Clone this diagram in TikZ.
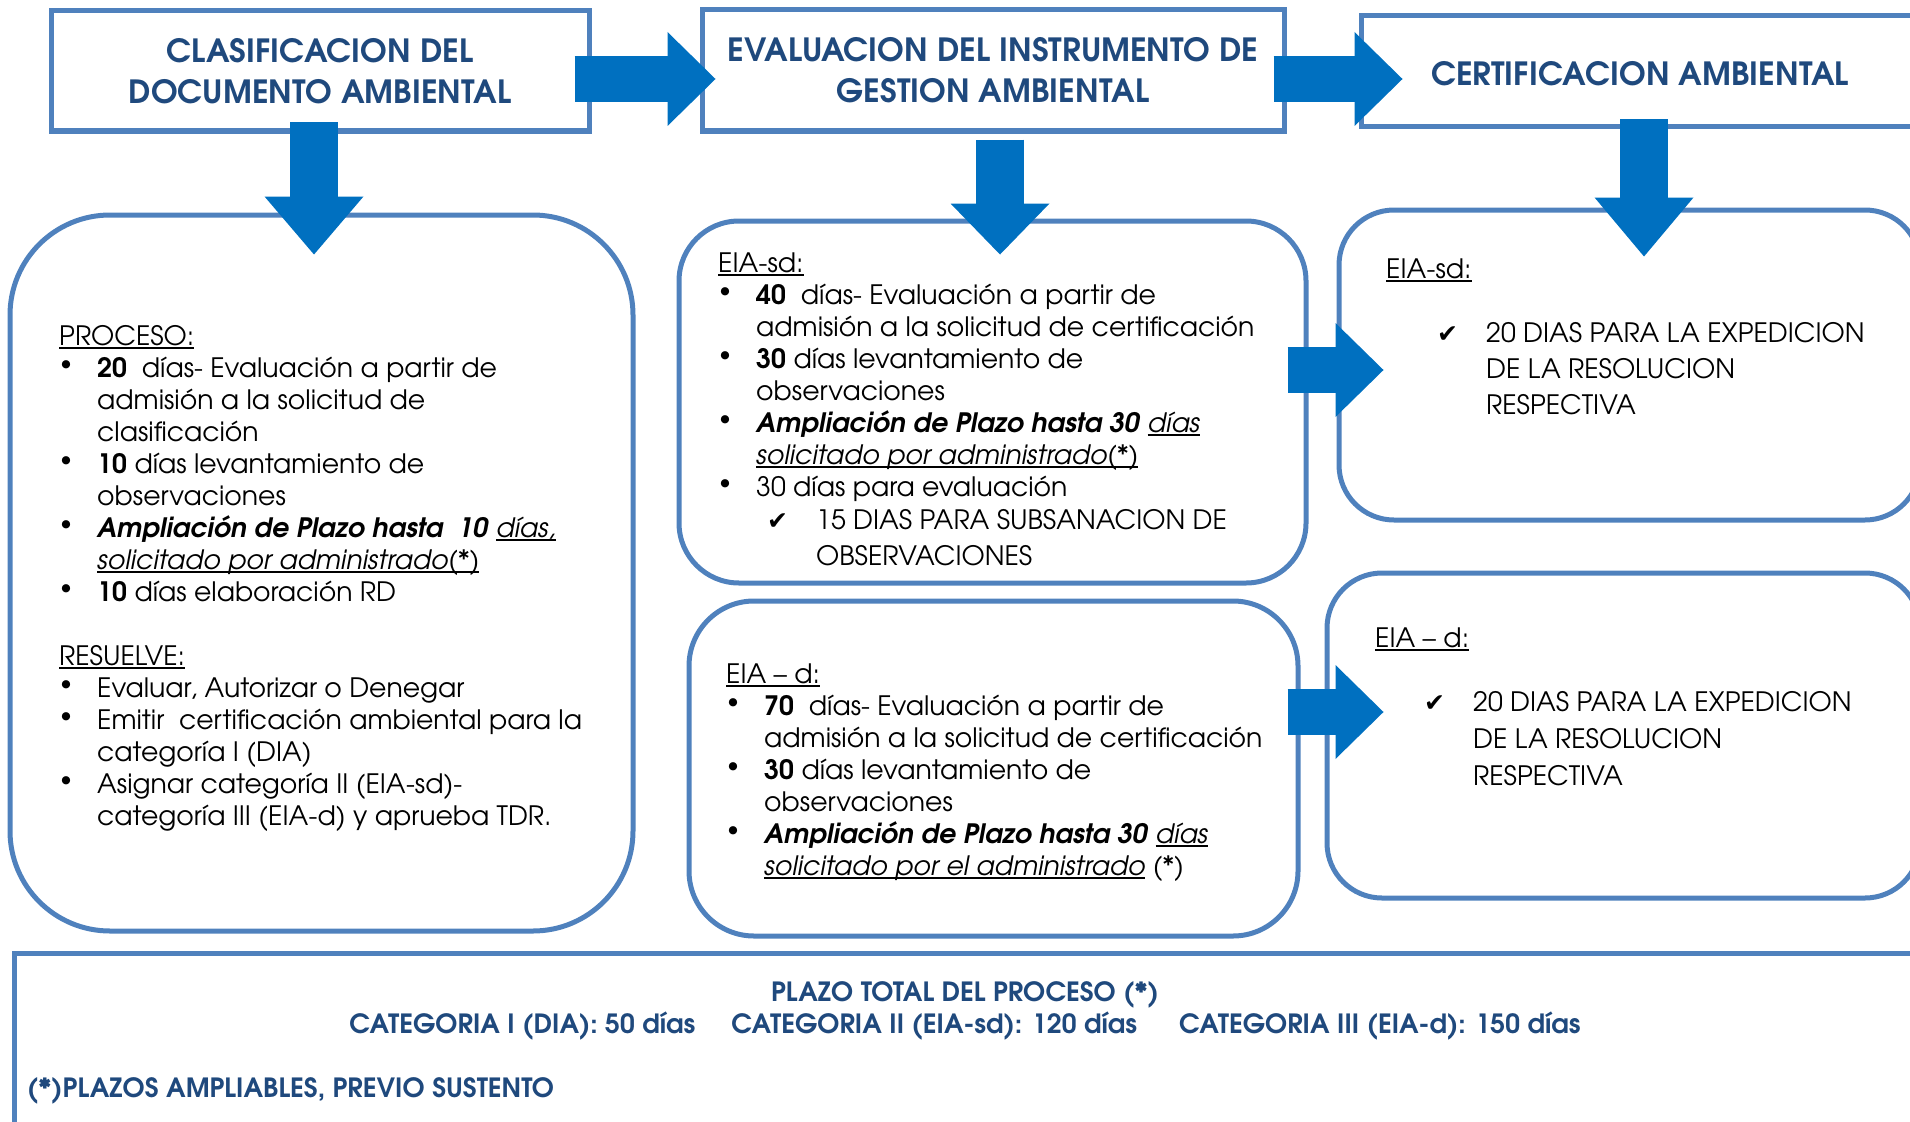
\documentclass[tikz,border=0pt]{standalone}
\usepackage{fontspec}
\setmainfont{TeX Gyre Adventor}
\newfontfamily\simbolo{DejaVu Sans}
\usetikzlibrary{arrows.meta}

\definecolor{borde}{RGB}{79,129,189}
\definecolor{azulflecha}{RGB}{0,112,192}
\definecolor{titulo}{RGB}{31,73,125}

\newcommand{\subr}[1]{\setbox0\hbox{#1}\rlap{\rule[-4pt]{\wd0}{1.8pt}}\box0}
\newcommand{\vineta}{\makebox[38pt][l]{\hspace*{1pt}\raisebox{7pt}{\fontsize{23}{23}\selectfont\textbullet}}}
\newcommand{\visto}{\makebox[49pt][l]{\simbolo\fontsize{25}{25}\selectfont ✔}}

\tikzset{
  titulobox/.style={draw=borde,line width=5pt,inner sep=0pt,text=titulo,align=center,
    font=\fontsize{32}{41}\selectfont\bfseries},
  cuadro/.style={draw=borde,line width=5pt,inner sep=0pt,rounded corners=#1},
  texto/.style={inner sep=0pt,anchor=base west,font=\fontsize{26.7}{32}\selectfont},
  pie/.style={inner sep=0pt,anchor=base,text=titulo,font=\fontsize{26.5}{32}\selectfont\bfseries},
  flechaH/.style={draw=azulflecha,line width=46pt,-{Triangle[length=48pt,width=94pt,line width=0pt]}},
  flechaV/.style={draw=azulflecha,line width=48pt,-{Triangle[length=#1,width=99pt,line width=0pt]}}
}

\begin{document}
\begin{tikzpicture}[x=1pt,y=-1pt]
\useasboundingbox (0,0) rectangle (1910,1121);
\clip (0,0) rectangle (1910,1121);

%Titulos
\node[titulobox,minimum width=538pt,minimum height=120pt] (clasif) at (320,71) {CLASIFICACION DEL\\DOCUMENTO AMBIENTAL};
\node[titulobox,minimum width=582pt,minimum height=121pt] (evalua) at (993,70.5) {EVALUACION DEL INSTRUMENTO DE\\GESTION AMBIENTAL};
\node[titulobox,minimum width=558pt,minimum height=111pt] (certif) at (1640,71.5) {\raisebox{-14.5pt}[15pt][15pt]{CERTIFICACION AMBIENTAL}};

%Cuadros
\node[cuadro=100pt,minimum width=623pt,minimum height=716pt] (proceso) at (321.5,573) {};
\node[cuadro=60pt,minimum width=627pt,minimum height=362pt] (evalsd) at (992.5,402) {};
\node[cuadro=65pt,minimum width=609pt,minimum height=335pt] (evald) at (993.5,768.5) {};
\node[cuadro=55pt,minimum width=581pt,minimum height=310pt] (certsd) at (1629.5,365) {};
\node[cuadro=55pt,minimum width=593pt,minimum height=325pt] (certd) at (1623.5,735.5) {};
\node[draw=borde,line width=5pt,inner sep=0pt,minimum width=1912pt,minimum height=180pt] (plazo) at (970,1043) {};

%Flechas
\coordinate (ab1) at ([shift={(-17,8)}]clasif.east);
\coordinate (ab2) at ([shift={(16,8.5)}]evalua.west);
\coordinate (bc1) at ([shift={(-13,8.5)}]evalua.east);
\coordinate (bc2) at ([shift={(44,7.5)}]certif.west);
\coordinate (a1) at ([shift={(-6,-11)}]clasif.south);
\coordinate (a2) at ([shift={(-7.5,42)}]proceso.north);
\coordinate (b1) at ([shift={(7,6)}]evalua.south);
\coordinate (b2) at ([shift={(7.5,36)}]evalsd.north);
\coordinate (c1) at ([shift={(4,-10)}]certif.south);
\coordinate (c2) at ([shift={(14.5,49)}]certsd.north);
\coordinate (d1) at ([shift={(-21,-32)}]evalsd.east);
\coordinate (d2) at ([shift={(47,5)}]certsd.west);
\coordinate (e1) at ([shift={(-13,-56.5)}]evald.east);
\coordinate (e2) at ([shift={(59,-23.5)}]certd.west);

\draw[flechaH] (ab1) -- (ab2);
\draw[flechaH] (bc1) -- (bc2);
\draw[flechaV=58pt] (a1) -- (a2);
\draw[flechaV=51pt] (b1) -- (b2);
\draw[flechaV=59pt] (c1) -- (c2);
\draw[flechaH] (d1) -- (d2);
\draw[flechaH] (e1) -- (e2);

%Textos
\node[texto] (txtproceso) at (59,345) {\begin{tabular}[t]{@{}l@{}l@{}}
\multicolumn{2}{@{}l@{}}{\subr{PROCESO:}}\\
\vineta & \textbf{20}\ \ días- Evaluación a partir de\\
 & admisión a la solicitud de\\
 & clasificación\\
\vineta & \textbf{10} días levantamiento de\\
 & observaciones\\
\vineta & \textbf{\textit{Ampliación de Plazo hasta\ \ 10}} \subr{\textit{días,}}\\
 & \subr{\textit{solicitado por administrado(*)}}\\
\vineta & \textbf{10} días elaboración RD\\
 & \\
\multicolumn{2}{@{}l@{}}{\subr{RESUELVE:}}\\
\vineta & Evaluar, Autorizar o Denegar\\
\vineta & Emitir\ \ certificación ambiental para la\\
 & categoría I (DIA)\\
\vineta & Asignar categoría II (EIA-sd)-\\
 & categoría III (EIA-d) y aprueba TDR.
\end{tabular}};

\node[texto] (txtevalsd) at (718,272) {\begin{tabular}[t]{@{}l@{}l@{}}
\multicolumn{2}{@{}l@{}}{\subr{EIA-sd:}}\\
\vineta & \textbf{40}\ \ días- Evaluación a partir de\\
 & admisión a la solicitud de certificación\\
\vineta & \textbf{30} días levantamiento de\\
 & observaciones\\
\vineta & \textbf{\textit{Ampliación de Plazo hasta 30}} \subr{\textit{días}}\\
 & \subr{\textit{solicitado por administrado(*)}}\\
\vineta & 30 días para evaluación\\[1pt]
 & \hspace*{11pt}\visto 15 DIAS PARA SUBSANACION DE\\[4pt]
 & \hspace*{60pt}OBSERVACIONES
\end{tabular}};

\node[texto] (txtevald) at (726,683) {\begin{tabular}[t]{@{}l@{}l@{}}
\multicolumn{2}{@{}l@{}}{\subr{EIA -- d:}}\\
\vineta & \textbf{70}\ \ días- Evaluación a partir de\\
 & admisión a la solicitud de certificación\\
\vineta & \textbf{30} días levantamiento de\\
 & observaciones\\
\vineta & \textbf{\textit{Ampliación de Plazo hasta 30}} \subr{\textit{días}}\\
 & \subr{\textit{solicitado por el administrado}}\ \textit{(*)}
\end{tabular}};

\node[texto] (txtcertsd) at (1386,278) {\begin{tabular}[t]{@{}l@{}}
\subr{EIA-sd:}\\
\\
\hspace*{51pt}\visto 20 DIAS PARA LA EXPEDICION\\[4pt]
\hspace*{100pt}DE LA RESOLUCION\\[4pt]
\hspace*{100pt}RESPECTIVA
\end{tabular}};

\node[texto] (txtcertd) at (1375,647) {\begin{tabular}[t]{@{}l@{}}
\subr{EIA -- d:}\\
\\
\hspace*{49pt}\visto 20 DIAS PARA LA EXPEDICION\\[5pt]
\hspace*{98pt}DE LA RESOLUCION\\[5pt]
\hspace*{98pt}RESPECTIVA
\end{tabular}};

%Plazo total
\node[pie] (plazotot) at (965,1001) {PLAZO TOTAL DEL PROCESO (*)};
\node[pie] (categ) at (965,1033) {CATEGORIA I (DIA): 50 días\hspace{36pt}CATEGORIA II (EIA-sd): 120 días\hspace{42pt}CATEGORIA III (EIA-d): 150 días};
\node[pie,anchor=base west] (amplia) at (27,1097) {(*)PLAZOS AMPLIABLES, PREVIO SUSTENTO};

\end{tikzpicture}
\end{document}
